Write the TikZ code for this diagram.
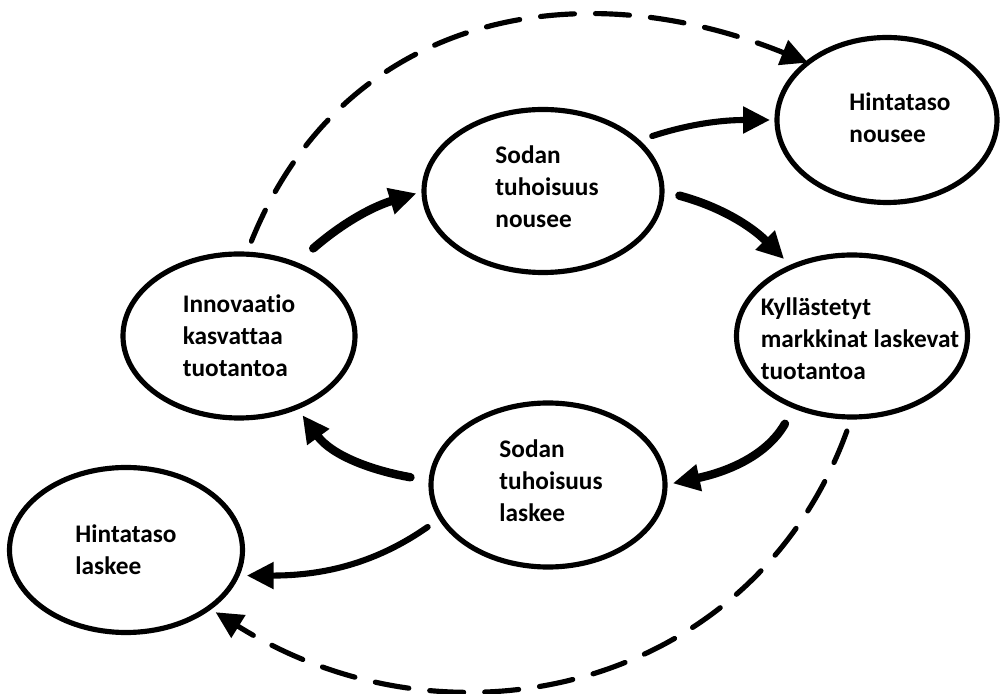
\documentclass[tikz,border=0pt]{standalone}
\usepackage{fontspec}
\setmainfont{Carlito}[Ligatures=NoCommon]
\usepackage{tikz}
\usetikzlibrary{shapes.geometric}
\usetikzlibrary{arrows.meta}
\tikzset{
    cycle diagram/.style={
            x=0.015cm, y=0.015cm,
            oval/.style={draw, ellipse, line width=2.2pt, inner sep=0pt, outer sep=0pt},
            txt/.style={align=left, inner sep=0pt, font=\bfseries\fontsize{10.8}{13.6}\selectfont},
            arrow/.style={-{Triangle[length=11.5pt,width=11pt]}, line width=3.6pt, line cap=round},
            thin arrow/.style={arrow, line width=2.6pt},
            feedback/.style={arrow, line width=2.2pt, dash pattern=on 14.5pt off 9pt}
        }
    }

\begin{document}
\begin{tikzpicture}[cycle diagram]
    \useasboundingbox (0,0) rectangle (1000,693);

    \node [oval, minimum width=3.48cm, minimum height=2.46cm,
           label={[txt]center:Innovaatio\\kasvattaa\\tuotantoa}] (in) at (239,357) {};
    \node [oval, minimum width=3.57cm, minimum height=2.445cm,
           label={[txt, xshift=0.06cm, yshift=0.06cm]center:Sodan\\tuhoisuus\\nousee}] (sn) at (543,502) {};
    \node [oval, minimum width=3.3cm, minimum height=2.475cm,
           label={[txt, xshift=0.195cm, yshift=0.03cm]center:Hintataso\\nousee}] (hn) at (887,573) {};
    \node [oval, minimum width=3.465cm, minimum height=2.43cm,
           label={[txt, xshift=0.12cm, yshift=-0.045cm]center:Kyllästetyt\\markkinat laskevat\\tuotantoa}] (ky) at (852,357) {};
    \node [oval, minimum width=3.51cm, minimum height=2.46cm,
           label={[txt, xshift=0.045cm, yshift=0.06cm]center:Sodan\\tuhoisuus\\laskee}] (sl) at (548,208) {};
    \node [oval, minimum width=3.495cm, minimum height=2.475cm,
           label={[txt]center:Hintataso\\laskee}] (hl) at (126,143) {};

    % main cycle
    \draw [arrow, shorten <=0.36cm, shorten >=0.12cm] (in.52) to [out=41, in=197] (sn.180);
    \draw [arrow, shorten <=0.27cm, shorten >=0.165cm] (sn.0) to [out=-15, in=135] (ky.131);
    \draw [arrow, shorten <=0.3cm, shorten >=0.12cm] (ky.231) to [out=240, in=12] (sl.0);
    \draw [arrow, shorten <=0.315cm, shorten >=0.15cm] (sl.178) to [out=170, in=-54] (in.-51);

    % price level
    \draw [thin arrow, shorten <=0.24cm, shorten >=0.105cm] (sn.28) to [out=18, in=180] (hn.180);
    \draw [thin arrow, shorten <=0.24cm, shorten >=0.15cm] (sl.197) to [out=215, in=0] (hl.-13);

    \draw [feedback, shorten <=0.21cm] (in.85) to [out=68, in=158, looseness=1.1] (hn.144);
    \draw [feedback, shorten <=0.225cm, shorten >=0.12cm] (ky.270) to [out=250, in=328, looseness=1.1] (hl.325);
\end{tikzpicture}
\end{document}
